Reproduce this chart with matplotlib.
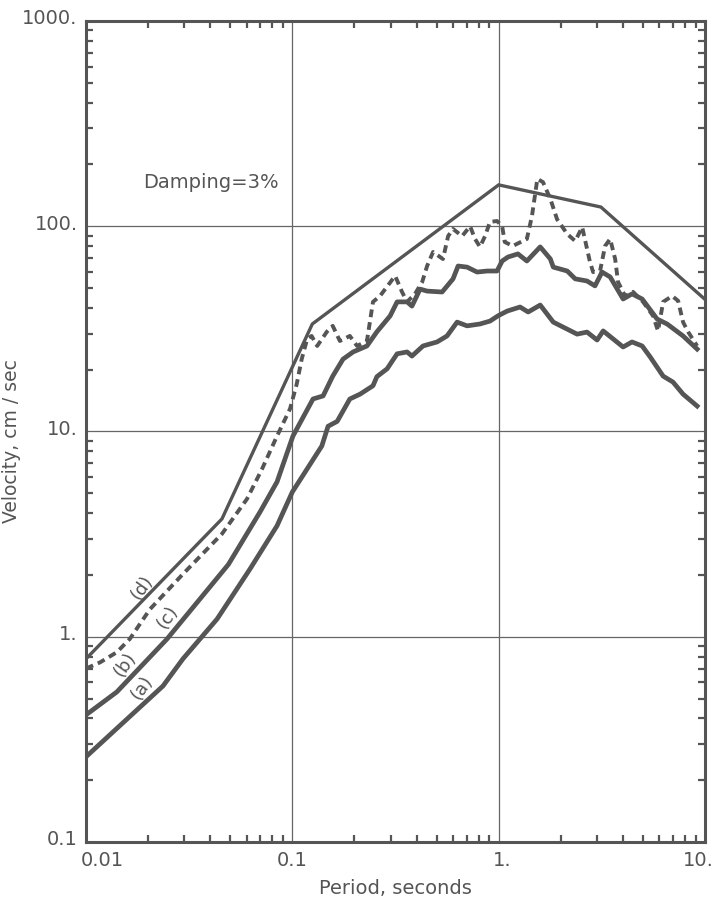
import numpy as np
import matplotlib
matplotlib.use("Agg")
import matplotlib.pyplot as plt
from matplotlib.ticker import FixedLocator, FixedFormatter, LogLocator, NullFormatter
from matplotlib.transforms import ScaledTranslation

INK = "#555555"

# (d) smoothed design envelope
period_d = [0.01, 0.0456, 0.125, 1.0, 3.13, 10.0]
vel_d = [0.78, 3.75, 33.4, 159, 124, 44]

# (b) dashed spectrum
period_b = [0.01, 0.0117, 0.0141, 0.0163, 0.0204, 0.0295, 0.0456, 0.0603, 0.0713,
            0.0843, 0.0975, 0.105, 0.111, 0.118, 0.124, 0.132, 0.147, 0.157, 0.170,
            0.190, 0.206, 0.230, 0.246, 0.266, 0.315, 0.340, 0.360, 0.393, 0.426,
            0.450, 0.481, 0.537, 0.569, 0.601, 0.665, 0.727, 0.768, 0.812, 0.859,
            0.908, 0.982, 1.04, 1.07, 1.17, 1.37, 1.45, 1.54, 1.64, 1.78, 1.92,
            2.15, 2.35, 2.54, 2.77, 2.87, 3.10, 3.28, 3.47, 3.67, 3.79, 4.10,
            4.48, 5.01, 5.60, 5.92, 6.27, 6.93, 7.41, 7.83, 8.28, 9.16]
vel_b = [0.70, 0.75, 0.84, 0.975, 1.36, 2.02, 3.17, 4.69, 6.56,
         9.5, 12.9, 17.0, 22.5, 28.2, 29.2, 26.1, 30.6, 32.7, 27.6,
         29.2, 26.1, 27.6, 42.8, 45.7, 57.3, 47.9, 42.8, 46.8, 53.5,
         64.0, 74.9, 69.2, 89.5, 97.0, 89.5, 100, 86.7, 79.3, 89.5,
         105, 106, 100, 83.8, 80.1, 86.7, 112, 170, 164, 136, 108,
         91.6, 84.7, 99, 67.0, 59.8, 60.5, 80.1, 86.7, 69.2, 53.5, 45.7,
         47.9, 42.8, 36.6, 30.9, 42.8, 45.7, 43.3, 34.1, 30.6, 26.1]

# (c) middle spectrum
period_c = [0.01, 0.0141, 0.0247, 0.049, 0.0697, 0.0843, 0.1007, 0.126, 0.141,
            0.157, 0.176, 0.197, 0.230, 0.257, 0.298, 0.322, 0.360, 0.380, 0.416,
            0.450, 0.532, 0.601, 0.636, 0.703, 0.786, 0.879, 0.982, 1.04, 1.11,
            1.24, 1.37, 1.59, 1.78, 1.84, 2.15, 2.35, 2.68, 2.93, 3.17, 3.47,
            4.01, 4.43, 4.96, 5.86, 6.55, 7.83, 9.16]
vel_c = [0.416, 0.538, 0.975, 2.25, 4.05, 5.68, 9.5, 14.4, 14.9,
         18.6, 22.5, 24.4, 26.1, 30.6, 36.6, 42.8, 42.8, 40.8, 49.4,
         48.3, 47.8, 55.4, 64.0, 63.2, 59.8, 60.5, 60.5, 67.7, 70.8,
         73.3, 67.7, 79.3, 69.3, 63.2, 60.5, 55.4, 54.1, 51.2, 59.8, 56.6,
         44.2, 46.8, 44.2, 35.3, 33.4, 29.2, 25.2]

# (a) lowest spectrum
period_a = [0.01, 0.0236, 0.0295, 0.0432, 0.0624, 0.0843, 0.1, 0.139, 0.149,
            0.165, 0.190, 0.213, 0.246, 0.257, 0.288, 0.322, 0.360, 0.380, 0.430,
            0.503, 0.562, 0.629, 0.703, 0.812, 0.908, 0.993, 1.10, 1.27, 1.39,
            1.59, 1.84, 2.40, 2.68, 3.0, 3.21, 4.01, 4.43, 4.96, 5.42, 6.27,
            7.0, 7.83, 9.16]
vel_a = [0.26, 0.575, 0.78, 1.22, 2.14, 3.47, 5.07, 8.5, 10.6,
         11.2, 14.4, 15.2, 16.7, 18.5, 20.2, 23.9, 24.4, 23.3, 26.1,
         27.3, 29.2, 34.1, 32.7, 33.4, 34.5, 36.6, 38.6, 40.4, 38.2,
         41.3, 34.1, 29.8, 30.5, 27.9, 30.9, 25.8, 27.3, 26.1, 23.1, 18.6,
         17.4, 15.2, 13.3]

x_ticks = [0.01, 0.1, 1.0, 10.0]
x_labels = ["0.01", "0.1", "1.", "10."]
y_ticks = [0.1, 1.0, 10.0, 100.0, 1000.0]
y_labels = ["0.1", "1.", "10.", "100.", "1000."]

plt.rcParams["font.family"] = ["DejaVu Sans"]

fig = plt.figure(figsize=(7.25, 9.04), dpi=100)
ax = fig.add_axes([0.1186, 0.0675, 0.8538, 0.9082])
ax.set_xscale("log")
ax.set_yscale("log")
ax.set_xlim(0.01, 10)
ax.set_ylim(0.1, 1000)

ax.plot(period_d, vel_d, color=INK, lw=2.4, solid_joinstyle="miter", zorder=3)
ax.plot(period_b, vel_b, color=INK, lw=2.8, dashes=(2.0, 1.3), zorder=3)
ax.plot(period_c, vel_c, color=INK, lw=3.4, solid_joinstyle="round", zorder=3)
ax.plot(period_a, vel_a, color=INK, lw=3.4, solid_joinstyle="round", zorder=3)

# curve tags
for txt, x, y in [("(d)", 0.0187, 1.75), ("(c)", 0.0249, 1.26),
                  ("(b)", 0.0155, 0.74), ("(a)", 0.0187, 0.57)]:
    ax.text(x, y, txt, rotation=55, ha="center", va="center",
            fontsize=13, color=INK)

ax.text(0.0189, 165, "Damping=3%", fontsize=14, color=INK, ha="left", va="center")

# axes styling
for s in ax.spines.values():
    s.set_color(INK)
    s.set_linewidth(2.2)

ax.xaxis.set_major_locator(FixedLocator(x_ticks))
ax.xaxis.set_major_formatter(FixedFormatter(x_labels))
ax.yaxis.set_major_locator(FixedLocator(y_ticks))
ax.yaxis.set_major_formatter(FixedFormatter(y_labels))
ax.xaxis.set_minor_locator(LogLocator(base=10, subs=np.arange(2, 10)))
ax.yaxis.set_minor_locator(LogLocator(base=10, subs=np.arange(2, 10)))
ax.xaxis.set_minor_formatter(NullFormatter())
ax.yaxis.set_minor_formatter(NullFormatter())

ax.tick_params(which="major", length=0, labelsize=14, labelcolor=INK, pad=6)
ax.tick_params(which="minor", direction="in", length=5, width=1.6,
               color=INK, top=True, right=True)

ax.grid(True, which="major", color="#666666", lw=0.9)

ax.set_xlabel("Period, seconds", fontsize=14, color=INK, labelpad=6)
ax.set_ylabel("Velocity, cm / sec", fontsize=13.5, color=INK)
ax.yaxis.set_label_coords(-0.105, 0.49)

# nudge a few tick labels the way the lettering sits
fig.canvas.draw()
xl = ax.get_xticklabels()
shifts = [16, 0, 4, -7]
for lbl, dx in zip(xl, shifts):
    lbl.set_transform(lbl.get_transform() + ScaledTranslation(dx / 100, 0, fig.dpi_scale_trans))
for lbl in ax.get_yticklabels():
    lbl.set_transform(lbl.get_transform() + ScaledTranslation(0, 5 / 100, fig.dpi_scale_trans))

fig.savefig("out.png", dpi=100)
